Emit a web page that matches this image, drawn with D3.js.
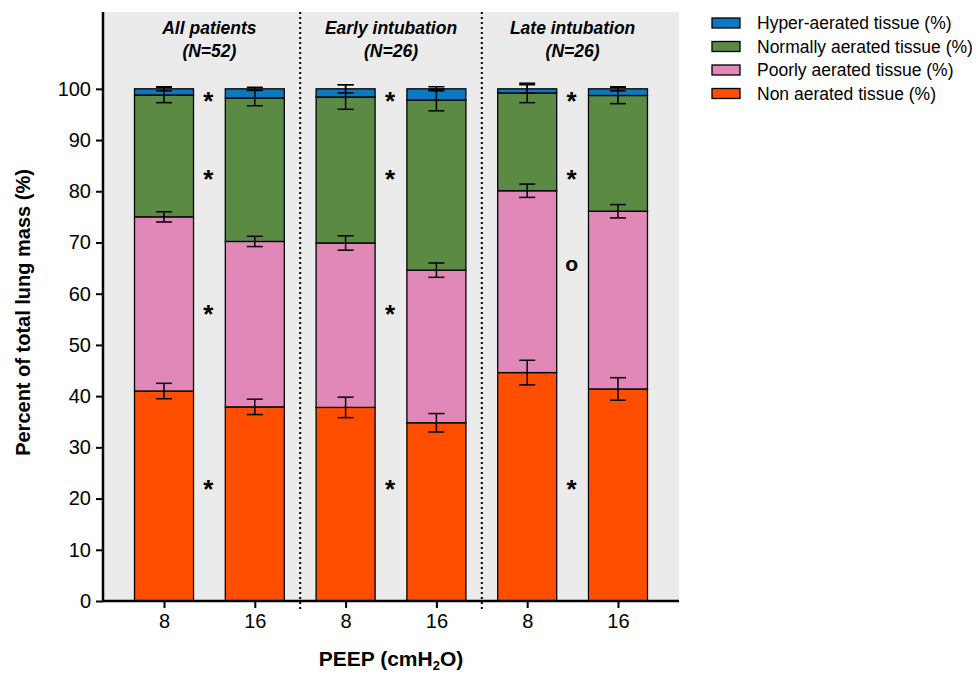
<!DOCTYPE html>
<html>
<head>
<meta charset="utf-8">
<script src="https://cdn.jsdelivr.net/npm/d3@7"></script>
<style>
  body { margin: 0; background: #fff; }
  text { font-family: "Liberation Sans", Arial, Helvetica, sans-serif; }
</style>
</head>
<body>
<div id="chart"></div>
<script>
// groups and bars
var groups = ["All patients", "Early intubation", "Late intubation"];
var groupN = ["(N=52)", "(N=26)", "(N=26)"];
var peep = ["8", "16", "8", "16", "8", "16"];

// segment sizes (%), bottom to top
var nonAerated = [41.0, 37.9, 37.8, 34.8, 44.6, 41.4];
var poorly     = [34.0, 32.3, 32.1, 29.8, 35.5, 34.7];
var normal     = [23.8, 28.0, 28.5, 33.2, 19.1, 22.6];
var hyper      = [1.2, 1.8, 1.6, 2.2, 0.8, 1.3];

// error (SEM) at top of each segment
var nonErr    = [1.5, 1.5, 2.0, 1.8, 2.4, 2.2];
var poorlyErr = [1.0, 1.0, 1.4, 1.4, 1.3, 1.3];
var normalErr = [1.5, 1.5, 2.4, 2.1, 1.9, 1.6];
var hyperErr  = [0.4, 0.3, 0.8, 0.4, 0.8, 0.4];

var seriesNames = ["Non aerated tissue (%)", "Poorly aerated tissue (%)",
                   "Normally aerated tissue (%)", "Hyper-aerated tissue (%)"];
var colors = ["#ff4e00", "#e088b8", "#5b8a44", "#0a79c0"];

// significance markers per group
var sigValues  = [[98.3, 83, 56.8, 22.5], [98.3, 83, 56.8, 22.5], [98.3, 83, 65.5, 22.5]];
var sigSymbols = [["*", "*", "*", "*"], ["*", "*", "*", "*"], ["*", "*", "o", "*"]];

var yTicks = [0, 10, 20, 30, 40, 50, 60, 70, 80, 90, 100];

var w = 976, h = 674;
var padL = 103, padR = 679, padT = 12, padB = 601;
var barW = 59;

var keys = ["non", "poorly", "normal", "hyper"];
var errs = [nonErr, poorlyErr, normalErr, hyperErr];
var rows = peep.map(function(p, i) {
    return { i: i, non: nonAerated[i], poorly: poorly[i], normal: normal[i], hyper: hyper[i] };
});
var stacked = d3.stack().keys(keys)(rows);

var xscale = d3.scalePoint()
    .domain(d3.range(peep.length))
    .range([padL, padR])
    .padding(0.672);

var yscale = d3.scaleLinear()
    .domain([0, 115])
    .range([padB, padT]);

var svg = d3.select("#chart").append("svg")
    .attr("width", w)
    .attr("height", h);

// background
svg.append("rect")
    .attr("x", padL).attr("y", padT)
    .attr("width", padR - padL).attr("height", padB - padT)
    .attr("fill", "#ebebeb");

// group dividers
[[1, 2], [3, 4]].forEach(function(pr) {
    var xx = (xscale(pr[0]) + xscale(pr[1])) / 2;
    svg.append("line")
        .attr("x1", xx).attr("x2", xx)
        .attr("y1", padT).attr("y2", padB + 11)
        .attr("stroke", "#000")
        .attr("stroke-width", 2)
        .attr("stroke-dasharray", "2,3");
});

// bars
svg.append("g").selectAll("g")
    .data(stacked)
    .enter().append("g")
    .attr("fill", function(d, k) { return colors[k]; })
    .selectAll("rect")
    .data(function(d) { return d; })
    .enter().append("rect")
    .attr("x", function(d) { return xscale(d.data.i) - barW / 2; })
    .attr("y", function(d) { return yscale(d[1]); })
    .attr("width", barW)
    .attr("height", function(d) { return yscale(d[0]) - yscale(d[1]); })
    .attr("stroke", "#000")
    .attr("stroke-width", 1.3);

// error bars
var eg = svg.append("g").attr("stroke", "#000").attr("stroke-width", 1.5);
stacked.forEach(function(layer, k) {
    layer.forEach(function(d) {
        var cx = xscale(d.data.i);
        var e = errs[k][d.data.i];
        var y1 = yscale(d[1] + e), y2 = yscale(d[1] - e);
        eg.append("line").attr("x1", cx).attr("x2", cx).attr("y1", y1).attr("y2", y2);
        eg.append("line").attr("x1", cx - 8).attr("x2", cx + 8).attr("y1", y1).attr("y2", y1);
        eg.append("line").attr("x1", cx - 8).attr("x2", cx + 8).attr("y1", y2).attr("y2", y2);
    });
});

// significance marks
groups.forEach(function(g, gi) {
    var cx = (xscale(gi * 2) + xscale(gi * 2 + 1)) / 2 - 1;
    sigValues[gi].forEach(function(v, j) {
        var s = sigSymbols[gi][j];
        svg.append("text")
            .attr("x", cx)
            .attr("y", yscale(v))
            .attr("dy", s === "*" ? "0.48em" : "0.27em")
            .attr("text-anchor", "middle")
            .attr("font-size", s === "*" ? 26 : 21)
            .attr("font-weight", "bold")
            .text(s);
    });
    svg.append("text")
        .attr("x", cx + 1).attr("y", 34)
        .attr("text-anchor", "middle")
        .attr("font-size", 17.5)
        .attr("font-weight", "bold")
        .attr("font-style", "italic")
        .text(g);
    svg.append("text")
        .attr("x", cx + 1).attr("y", 57)
        .attr("text-anchor", "middle")
        .attr("font-size", 17.5)
        .attr("font-weight", "bold")
        .attr("font-style", "italic")
        .text(groupN[gi]);
});

// axes
var yaxis = d3.axisLeft(yscale).tickValues(yTicks).tickSize(7).tickPadding(5);
var xaxis = d3.axisBottom(xscale).tickSize(7).tickPadding(6)
    .tickFormat(function(i) { return peep[i]; });

var gy = svg.append("g")
    .attr("transform", "translate(" + padL + ",0)")
    .call(yaxis);
gy.select(".domain").attr("d", "M0," + padT + "V" + padB).attr("stroke-width", 2.5);

var gx = svg.append("g")
    .attr("transform", "translate(0," + padB + ")")
    .call(xaxis);
gx.select(".domain").attr("d", "M" + (padL - 1) + ",0H" + padR).attr("stroke-width", 2.5);

svg.selectAll(".tick line").attr("stroke-width", 2);
svg.selectAll(".tick text")
    .attr("font-size", 20)
    .attr("font-family", "Liberation Sans, Arial, sans-serif")
    .attr("fill", "#000");

// axis titles
svg.append("text")
    .attr("transform", "translate(30," + ((padT + padB) / 2 + 6) + ") rotate(-90)")
    .attr("text-anchor", "middle")
    .attr("font-size", 20)
    .attr("font-weight", "bold")
    .text("Percent of total lung mass (%)");

var xt = svg.append("text")
    .attr("x", (padL + padR) / 2)
    .attr("y", 666)
    .attr("text-anchor", "middle")
    .attr("font-size", 21)
    .attr("font-weight", "bold");
xt.append("tspan").text("PEEP (cmH");
xt.append("tspan").attr("font-size", 13).attr("dy", 4).text("2");
xt.append("tspan").attr("dy", -4).text("O)");

// legend
var legendOrder = [3, 2, 1, 0];
var lg = svg.append("g");
legendOrder.forEach(function(k, j) {
    var yy = 23 + j * 23.5;
    lg.append("rect")
        .attr("x", 712).attr("y", yy - 5)
        .attr("width", 28).attr("height", 10)
        .attr("fill", colors[k])
        .attr("stroke", "#000")
        .attr("stroke-width", 1.3);
    lg.append("text")
        .attr("x", 757).attr("y", yy + 6)
        .attr("font-size", 17.5)
        .text(seriesNames[k]);
});
</script>
</body>
</html>
